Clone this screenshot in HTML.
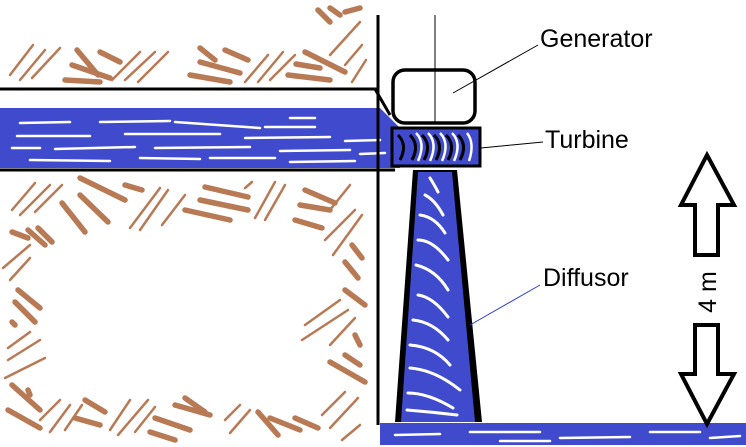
<!DOCTYPE html>
<html><head><meta charset="utf-8"><style>
html,body{margin:0;padding:0;background:#fff;}
svg{display:block;}
text{font-family:"Liberation Sans","DejaVu Sans",sans-serif;font-size:25px;fill:#000;}
</style></head><body>
<svg width="746" height="447" viewBox="0 0 746 447" xmlns="http://www.w3.org/2000/svg">
<!-- brown ground strokes -->
<g stroke="#b87a55" stroke-linecap="round" fill="none">
 <g stroke-width="2.5">
  <!-- top band thin diagonals -->
  <line x1="10" y1="75" x2="33" y2="45"/><line x1="20" y1="80" x2="45" y2="50"/><line x1="32" y1="78" x2="60" y2="48"/>
  <line x1="112" y1="80" x2="140" y2="52"/><line x1="125" y1="80" x2="155" y2="52"/><line x1="138" y1="82" x2="168" y2="52"/>
  <line x1="245" y1="82" x2="268" y2="55"/><line x1="258" y1="82" x2="283" y2="52"/><line x1="270" y1="80" x2="295" y2="55"/>
  <line x1="330" y1="55" x2="360" y2="22"/><line x1="345" y1="65" x2="362" y2="45"/><line x1="352" y1="82" x2="366" y2="60"/>
  <!-- lower ring thin -->
  <line x1="12" y1="210" x2="35" y2="183"/><line x1="20" y1="215" x2="50" y2="185"/><line x1="35" y1="212" x2="62" y2="185"/>
  <line x1="130" y1="228" x2="160" y2="188"/><line x1="140" y1="230" x2="168" y2="190"/><line x1="162" y1="225" x2="185" y2="195"/>
  <line x1="255" y1="218" x2="275" y2="182"/><line x1="265" y1="220" x2="285" y2="185"/><line x1="245" y1="188" x2="252" y2="182"/>
  <line x1="3" y1="268" x2="30" y2="245"/><line x1="10" y1="280" x2="30" y2="258"/>
  <line x1="8" y1="348" x2="30" y2="332"/><line x1="8" y1="360" x2="40" y2="340"/><line x1="5" y1="378" x2="45" y2="358"/>
  <line x1="325" y1="240" x2="355" y2="210"/><line x1="333" y1="255" x2="362" y2="215"/><line x1="330" y1="210" x2="350" y2="185"/>
  <line x1="305" y1="325" x2="340" y2="300"/><line x1="302" y1="340" x2="348" y2="310"/><line x1="330" y1="345" x2="355" y2="318"/>
  <line x1="50" y1="432" x2="70" y2="405"/><line x1="65" y1="430" x2="82" y2="405"/><line x1="40" y1="420" x2="60" y2="400"/>
  <line x1="110" y1="430" x2="130" y2="400"/><line x1="118" y1="435" x2="148" y2="400"/><line x1="135" y1="432" x2="155" y2="407"/>
  <line x1="230" y1="433" x2="250" y2="410"/><line x1="225" y1="420" x2="240" y2="405"/>
  <line x1="322" y1="415" x2="345" y2="392"/><line x1="330" y1="428" x2="358" y2="398"/><line x1="342" y1="440" x2="360" y2="425"/>
 </g>
 <g stroke-width="5.5">
  <!-- top band thick -->
  <line x1="65" y1="80" x2="100" y2="82"/><line x1="72" y1="65" x2="110" y2="78"/><line x1="77" y1="50" x2="98" y2="75"/><line x1="100" y1="52" x2="120" y2="62"/>
  <line x1="190" y1="75" x2="230" y2="82"/><line x1="200" y1="62" x2="240" y2="73"/><line x1="200" y1="48" x2="215" y2="60"/><line x1="225" y1="50" x2="248" y2="60"/>
  <line x1="288" y1="75" x2="330" y2="80"/><line x1="305" y1="52" x2="345" y2="72"/><line x1="296" y1="64" x2="320" y2="68"/>
  <line x1="318" y1="10" x2="330" y2="22"/><line x1="330" y1="8" x2="340" y2="15"/><line x1="345" y1="12" x2="360" y2="8"/>
  <!-- lower ring thick -->
  <line x1="62" y1="203" x2="85" y2="232"/><line x1="80" y1="195" x2="108" y2="222"/><line x1="80" y1="178" x2="125" y2="200"/><line x1="125" y1="185" x2="142" y2="190"/>
  <line x1="185" y1="210" x2="230" y2="220"/><line x1="200" y1="200" x2="248" y2="210"/><line x1="205" y1="187" x2="248" y2="197"/>
  <line x1="295" y1="220" x2="322" y2="228"/><line x1="300" y1="205" x2="330" y2="210"/><line x1="305" y1="190" x2="335" y2="203"/>
  <line x1="12" y1="232" x2="28" y2="238"/><line x1="28" y1="230" x2="45" y2="245"/><line x1="38" y1="228" x2="52" y2="242"/>
  <line x1="18" y1="290" x2="40" y2="308"/><line x1="15" y1="302" x2="35" y2="322"/><line x1="12" y1="322" x2="15" y2="325"/>
  <line x1="352" y1="245" x2="362" y2="258"/><line x1="345" y1="262" x2="358" y2="278"/><line x1="345" y1="290" x2="365" y2="305"/>
  <line x1="355" y1="335" x2="360" y2="345"/><line x1="330" y1="362" x2="365" y2="382"/><line x1="345" y1="355" x2="360" y2="365"/>
  <line x1="12" y1="385" x2="40" y2="410"/><line x1="28" y1="390" x2="30" y2="395"/><line x1="8" y1="410" x2="40" y2="428"/>
  <line x1="85" y1="400" x2="105" y2="412"/><line x1="75" y1="418" x2="100" y2="425"/>
  <line x1="155" y1="418" x2="190" y2="430"/><line x1="150" y1="432" x2="175" y2="440"/>
  <line x1="175" y1="405" x2="210" y2="415"/><line x1="185" y1="398" x2="205" y2="412"/>
  <line x1="258" y1="412" x2="278" y2="435"/><line x1="270" y1="418" x2="300" y2="430"/><line x1="295" y1="418" x2="318" y2="428"/>
 </g>
</g>
<!-- water channel -->
<path d="M0,108 L380,108 L400,128 L400,168 L0,168 Z" fill="#3f4bcc"/>
<g stroke="#fff" stroke-width="2.5" stroke-linecap="round">
 <line x1="20" y1="123" x2="70" y2="122"/><line x1="100" y1="122" x2="170" y2="121"/><line x1="175" y1="122" x2="260" y2="128"/><line x1="265" y1="127" x2="315" y2="127"/><line x1="290" y1="118" x2="315" y2="118"/>
 <line x1="17" y1="136" x2="90" y2="136"/><line x1="125" y1="134" x2="220" y2="134"/><line x1="245" y1="138" x2="330" y2="137"/><line x1="345" y1="141" x2="380" y2="140"/>
 <line x1="12" y1="148" x2="40" y2="148"/><line x1="55" y1="149" x2="135" y2="147"/><line x1="155" y1="148" x2="250" y2="147"/><line x1="280" y1="151" x2="350" y2="150"/><line x1="360" y1="154" x2="385" y2="153"/>
 <line x1="30" y1="160" x2="110" y2="161"/><line x1="140" y1="158" x2="200" y2="159"/><line x1="210" y1="158" x2="275" y2="158"/><line x1="290" y1="162" x2="355" y2="161"/>
</g>
<!-- walls/lines -->
<g stroke="#000" stroke-width="3" fill="none">
 <line x1="0" y1="89" x2="377" y2="89"/>
 <line x1="0" y1="170" x2="395" y2="170"/>
 <line x1="378" y1="15" x2="378" y2="425"/>
 <line x1="375" y1="89" x2="390" y2="115"/>
</g>
<!-- diffusor -->
<path d="M413,170 L457,170 L482,422 L395,422 Z" fill="#000"/>
<path d="M418,172 L452,172 L475,422 L401,422 Z" fill="#3f4bcc"/>
<g stroke="#fff" stroke-width="3" fill="none" stroke-linecap="round">
 <path d="M425,195 q10,5 18,20"/><path d="M420,215 q15,2 25,18"/><path d="M418,240 q15,0 30,20"/><path d="M416,265 q20,5 32,25"/>
 <path d="M418,295 q15,2 30,22"/><path d="M413,320 q20,2 35,20"/><path d="M410,345 q25,2 40,20"/><path d="M410,368 q25,2 50,22"/>
 <path d="M408,393 q20,0 45,15"/><path d="M407,410 q25,2 50,5"/><path d="M430,178 q5,8 8,14"/>
</g>
<!-- bottom water -->
<rect x="380" y="423" width="366" height="22" fill="#3f4bcc"/>
<g stroke="#fff" stroke-width="2.5" stroke-linecap="round">
 <line x1="395" y1="435" x2="440" y2="434"/><line x1="470" y1="432" x2="540" y2="432"/><line x1="560" y1="438" x2="630" y2="437"/><line x1="650" y1="432" x2="700" y2="432"/><line x1="710" y1="438" x2="740" y2="436"/><line x1="500" y1="441" x2="550" y2="441"/>
</g>
<!-- turbine -->
<rect x="392" y="128" width="88" height="38" fill="#3f4bcc" stroke="#000" stroke-width="3"/>
<g stroke="#000" stroke-width="3" fill="none">
 <path d="M398,135 q10,10 2,25"/><path d="M410,135 q10,10 2,25"/><path d="M422,135 q10,10 2,25"/><path d="M434,135 q10,10 2,25"/><path d="M446,135 q10,10 2,25"/><path d="M458,135 q10,10 2,25"/>
</g>
<g stroke="#fff" stroke-width="2.5" fill="none">
 <path d="M416,133 q10,10 2,28"/><path d="M428,133 q10,10 2,28"/><path d="M440,133 q10,10 2,28"/><path d="M452,133 q10,10 2,28"/><path d="M467,133 q8,10 2,28"/>
</g>
<!-- generator -->
<rect x="393" y="70" width="82" height="53" rx="12" fill="#fff" stroke="#000" stroke-width="3.5"/>
<line x1="435" y1="15" x2="435" y2="123" stroke="#000" stroke-width="1"/>
<!-- leaders -->
<line x1="453" y1="93" x2="538" y2="45" stroke="#000" stroke-width="1"/>
<line x1="481" y1="148" x2="543" y2="142" stroke="#000" stroke-width="1"/>
<line x1="470" y1="325" x2="540" y2="285" stroke="#2a3acc" stroke-width="1"/>
<!-- labels -->
<text x="540" y="47">Generator</text>
<text x="545" y="148">Turbine</text>
<text x="543" y="286">Diffusor</text>
<!-- arrows -->
<path d="M707,155 L734,205 L718,205 L718,255 L695,255 L695,205 L681,205 Z" fill="#fff" stroke="#000" stroke-width="4" stroke-linejoin="miter"/>
<path d="M707,424 L734,374 L718,374 L718,325 L695,325 L695,374 L681,374 Z" fill="#fff" stroke="#000" stroke-width="4" stroke-linejoin="miter"/>
<text x="0" y="0" transform="translate(716,292) rotate(-90)" text-anchor="middle">4 m</text>
</svg>
</body></html>
